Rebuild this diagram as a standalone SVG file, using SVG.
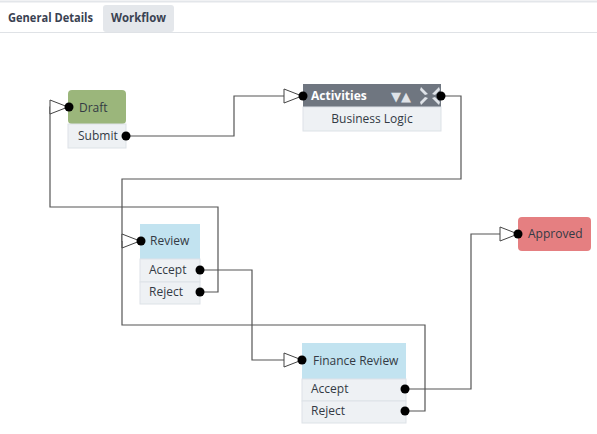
<svg xmlns="http://www.w3.org/2000/svg" width="597" height="434" viewBox="0 0 597 434">
<style>
text{font-family:"Open Sans","Noto Sans","Liberation Sans",sans-serif;font-size:12px;fill:#333a44}
.tab{font-weight:bold;font-size:12.5px;fill:#3a4252}
.wire{fill:none;stroke:#555;stroke-width:1.2}
.row{fill:#eef1f4;stroke:#dde2e7;stroke-width:1}
.dot{fill:#000}
.arr{fill:#fff;stroke:#444;stroke-width:1}
</style>
<defs>
<marker id="tri" viewBox="0 0 20 16" refX="19" refY="8" markerWidth="20" markerHeight="16" markerUnits="userSpaceOnUse" orient="auto">
<path d="M1,1 L19,8 L1,15 Z" class="arr"/>
</marker>
</defs>
<rect x="0" y="0" width="597" height="434" fill="#fff"/>
<line x1="0" y1="1.5" x2="597" y2="1.5" stroke="#e3e6ea" stroke-width="2"/>
<g id="tabs">
<rect x="103" y="5" width="71" height="27" rx="3" fill="#e4e7eb"/>
<line x1="0" y1="32.5" x2="597" y2="32.5" stroke="#dfe2e6" stroke-width="1"/>
<text class="tab" x="8" y="22" textLength="85" lengthAdjust="spacingAndGlyphs">General Details</text>
<text class="tab" x="111" y="22" textLength="55" lengthAdjust="spacingAndGlyphs">Workflow</text>
</g>
<g id="connectors">
<polyline class="wire" points="126,136 234,136 234,96 302,96" marker-end="url(#tri)"/>
<polyline class="wire" points="441,96 461,96 461,179 122,179 122,241 140,241" marker-end="url(#tri)"/>
<polyline class="wire" points="405,411 425,411 425,325 122,325 122,241"/>
<polyline class="wire" points="200,292 218,292 218,207 50,207 50,107 68,107" marker-end="url(#tri)"/>
<polyline class="wire" points="200,270 252,270 252,360 302,360" marker-end="url(#tri)"/>
<polyline class="wire" points="405,389 471,389 471,234 518,234" marker-end="url(#tri)"/>
</g>
<g id="draft">
<rect x="68" y="90" width="58" height="34" rx="4" fill="#9bb67b"/>
<rect class="row" x="68" y="124" width="58" height="24"/>
<text x="79" y="112">Draft</text>
<text x="78" y="140" fill="#444">Submit</text>
<circle class="dot" cx="69" cy="107" r="4.5"/>
<circle class="dot" cx="126" cy="136" r="4.5"/>
</g>
<g id="activities">
<rect x="303" y="84" width="138" height="23" fill="#6f7680"/>
<rect class="row" x="303" y="107" width="138" height="24"/>
<text x="311" y="100" font-weight="bold" style="fill:#fff">Activities</text>
<text x="391" y="100.5" style="fill:#dfe3e8;font-size:13px;font-family:'DejaVu Sans',sans-serif">▼▲</text>
<g fill="#dfe3e8">
<path d="M421,87 L428,94 L425,95 L420,90 Z M421,105 L428,98 L425,97 L420,102 Z M439,87 L432,94 L435,95 L440,90 Z M439,105 L432,98 L435,97 L440,102 Z"/>
</g>
<text x="372" y="123" text-anchor="middle">Business Logic</text>
<circle class="dot" cx="303" cy="96" r="4.5"/>
<circle class="dot" cx="441" cy="96" r="4.5"/>
</g>
<g id="review">
<rect x="140" y="224" width="60" height="35" fill="#c2e3f0"/>
<rect class="row" x="140" y="259" width="60" height="23"/>
<rect class="row" x="140" y="282" width="60" height="22"/>
<text x="150" y="245">Review</text>
<text x="149" y="274" fill="#444">Accept</text>
<text x="149" y="296" fill="#444">Reject</text>
<circle class="dot" cx="141" cy="241" r="4.5"/>
<circle class="dot" cx="200" cy="270" r="4.5"/>
<circle class="dot" cx="200" cy="292" r="4.5"/>
</g>
<g id="finance">
<rect x="302" y="343" width="104" height="36" fill="#c2e3f0"/>
<rect class="row" x="302" y="379" width="104" height="22"/>
<rect class="row" x="302" y="401" width="104" height="22"/>
<text x="313" y="365">Finance Review</text>
<text x="311" y="393" fill="#444">Accept</text>
<text x="311" y="415" fill="#444">Reject</text>
<circle class="dot" cx="302" cy="360" r="4.5"/>
<circle class="dot" cx="405" cy="389" r="4.5"/>
<circle class="dot" cx="405" cy="411" r="4.5"/>
</g>
<g id="approved">
<rect x="518" y="217" width="73" height="34" rx="4" fill="#e57f81"/>
<text x="528" y="238">Approved</text>
<circle class="dot" cx="518" cy="234" r="4.5"/>
</g>
</svg>
